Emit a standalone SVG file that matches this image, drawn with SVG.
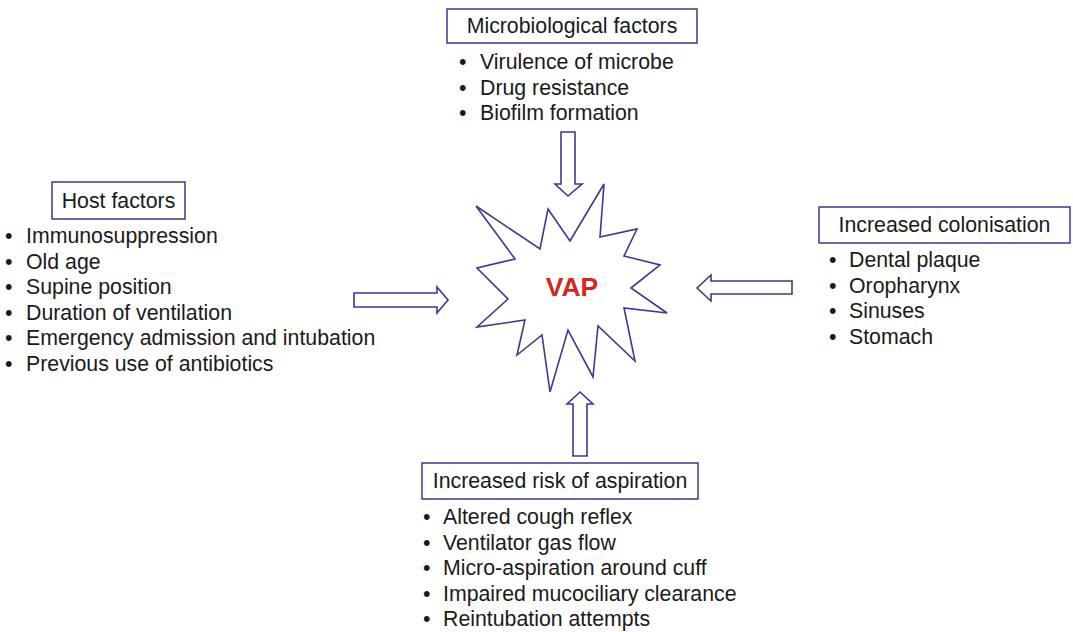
<svg xmlns="http://www.w3.org/2000/svg" width="1073" height="632" viewBox="0 0 1073 632">
<style>
.box{fill:#fff;stroke:#3d3795;stroke-width:1.5}
.t{font-family:"Liberation Sans",Arial,sans-serif;font-size:21.3px;fill:#1a1a1a}
.arr{fill:#fff;stroke:#3d3795;stroke-width:1.6;stroke-linejoin:miter}
.star{fill:#fff;stroke:#3d3795;stroke-width:1.6;stroke-linejoin:miter}
.vap{font-family:"Liberation Sans",Arial,sans-serif;font-size:26.5px;font-weight:bold;fill:#d2281f}
</style>
<rect width="1073" height="632" fill="#fff"/>
<g id="vap">
<polygon class="star" points="604,184 600,237 637,229 624,256 660,265 631,288 667,313 624,308 635,361 598,326 593,377 568,330 550,392 542,335 517,355 525,320 477,327 508,299 477,268 515,259 476,206 540,249 548,209 570,241"/>
<text class="vap" x="572" y="296" text-anchor="middle">VAP</text>
</g>
<g id="connectors">
<polygon class="arr" points="561,132 575,132 575,184 582,184 568,196 555,184 561,184"/>
<polygon class="arr" points="354,293 437,293 437,287 448,300 437,313 437,307 354,307"/>
<polygon class="arr" points="792,281 711,281 711,275 697,288 711,301 711,294 792,294"/>
<polygon class="arr" points="573,456 573,404 567,404 580,392 593,404 587,404 587,456"/>
</g>
<g id="microbiological">
<rect class="box" x="447" y="9" width="250" height="34"/>
<text class="t" x="572" y="33" text-anchor="middle">Microbiological factors</text>
<text class="t" x="459" y="69">•</text><text class="t" x="480" y="69">Virulence of microbe</text>
<text class="t" x="459" y="94.5">•</text><text class="t" x="480" y="94.5">Drug resistance</text>
<text class="t" x="459" y="120">•</text><text class="t" x="480" y="120">Biofilm formation</text>
</g>
<g id="host">
<rect class="box" x="52" y="182" width="133" height="37"/>
<text class="t" x="118.5" y="208" text-anchor="middle">Host factors</text>
<text class="t" x="5" y="243">•</text><text class="t" x="26" y="243">Immunosuppression</text>
<text class="t" x="5" y="268.5">•</text><text class="t" x="26" y="268.5">Old age</text>
<text class="t" x="5" y="294">•</text><text class="t" x="26" y="294">Supine position</text>
<text class="t" x="5" y="319.5">•</text><text class="t" x="26" y="319.5">Duration of ventilation</text>
<text class="t" x="5" y="345">•</text><text class="t" x="26" y="345">Emergency admission and intubation</text>
<text class="t" x="5" y="370.5">•</text><text class="t" x="26" y="370.5">Previous use of antibiotics</text>
</g>
<g id="colonisation">
<rect class="box" x="819" y="207" width="251" height="36"/>
<text class="t" x="944.5" y="232" text-anchor="middle">Increased colonisation</text>
<text class="t" x="829" y="267">•</text><text class="t" x="849" y="267">Dental plaque</text>
<text class="t" x="829" y="292.5">•</text><text class="t" x="849" y="292.5">Oropharynx</text>
<text class="t" x="829" y="318">•</text><text class="t" x="849" y="318">Sinuses</text>
<text class="t" x="829" y="343.5">•</text><text class="t" x="849" y="343.5">Stomach</text>
</g>
<g id="aspiration">
<rect class="box" x="422" y="463" width="276" height="36"/>
<text class="t" x="560" y="488" text-anchor="middle">Increased risk of aspiration</text>
<text class="t" x="423" y="524">•</text><text class="t" x="443" y="524">Altered cough reflex</text>
<text class="t" x="423" y="549.5">•</text><text class="t" x="443" y="549.5">Ventilator gas flow</text>
<text class="t" x="423" y="575">•</text><text class="t" x="443" y="575">Micro-aspiration around cuff</text>
<text class="t" x="423" y="600.5">•</text><text class="t" x="443" y="600.5">Impaired mucociliary clearance</text>
<text class="t" x="423" y="626">•</text><text class="t" x="443" y="626">Reintubation attempts</text>
</g>
</svg>
